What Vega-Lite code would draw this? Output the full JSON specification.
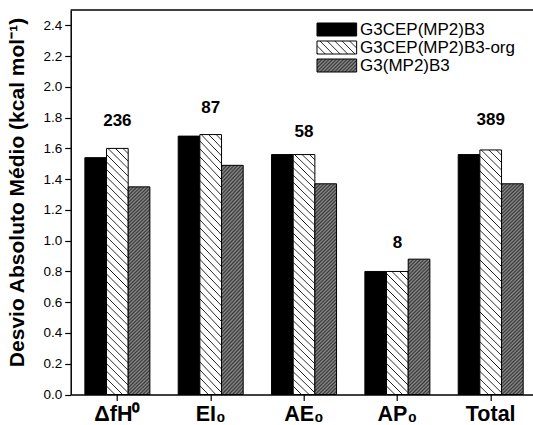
{
  "$schema": "https://vega.github.io/schema/vega-lite/v6.json",
  "autosize": {"type": "none"},
  "padding": {"left": 70.7, "top": 10, "right": 0, "bottom": 30.5},
  "width": 462.3,
  "height": 384.5,
  "background": "white",
  "config": {
    "view": {"stroke": null}, "font": "Liberation Sans",
    "axisY": {"labelOverlap": false, "labelFontSize": 13.5, "labelColor": "#000", "labelPadding": 3, "tickSize": 6, "tickColor": "#000", "tickWidth": 1.2, "domainColor": "#000", "domainWidth": 1.5, "grid": false, "format": ".1f", "titleFontSize": 21, "titleFontWeight": "bold", "titleColor": "#000"},
    "axisX": {"labelAngle": 0, "labelFontSize": 21.5, "labelFontWeight": "bold", "labelColor": "#000", "labelPadding": 3, "tickSize": 6, "tickColor": "#000", "tickWidth": 1.2, "domainColor": "#000", "domainWidth": 1.5}
  },
  "layer": [
    {
      "data": {"values": [
        {"cat": "ΔfH⁰", "series": "G3CEP(MP2)B3", "value": 1.54},
        {"cat": "ΔfH⁰", "series": "G3CEP(MP2)B3-org", "value": 1.60},
        {"cat": "ΔfH⁰", "series": "G3(MP2)B3", "value": 1.35},
        {"cat": "EI₀", "series": "G3CEP(MP2)B3", "value": 1.68},
        {"cat": "EI₀", "series": "G3CEP(MP2)B3-org", "value": 1.69},
        {"cat": "EI₀", "series": "G3(MP2)B3", "value": 1.49},
        {"cat": "AE₀", "series": "G3CEP(MP2)B3", "value": 1.56},
        {"cat": "AE₀", "series": "G3CEP(MP2)B3-org", "value": 1.56},
        {"cat": "AE₀", "series": "G3(MP2)B3", "value": 1.37},
        {"cat": "AP₀", "series": "G3CEP(MP2)B3", "value": 0.80},
        {"cat": "AP₀", "series": "G3CEP(MP2)B3-org", "value": 0.80},
        {"cat": "AP₀", "series": "G3(MP2)B3", "value": 0.88},
        {"cat": "Total", "series": "G3CEP(MP2)B3", "value": 1.56},
        {"cat": "Total", "series": "G3CEP(MP2)B3-org", "value": 1.59},
        {"cat": "Total", "series": "G3(MP2)B3", "value": 1.37}
      ]},
      "mark": {"type": "bar", "stroke": "#000", "strokeWidth": 1},
      "encoding": {
        "x": {
          "field": "cat", "type": "nominal",
          "scale": {"domain": ["ΔfH⁰", "EI₀", "AE₀", "AP₀", "Total"], "range": [0, 466.67], "paddingInner": 0.3036, "paddingOuter": 0.1518},
          "axis": {"title": null}
        },
        "xOffset": {"field": "series", "type": "nominal", "scale": {"domain": ["G3CEP(MP2)B3", "G3CEP(MP2)B3-org", "G3(MP2)B3"], "paddingInner": 0, "paddingOuter": 0}},
        "y": {
          "field": "value", "type": "quantitative",
          "scale": {"domain": [0, 2.5], "nice": false, "zero": true},
          "axis": {
            "title": "Desvio Absoluto Médio (kcal mol⁻¹)",
            "titleX": -52.7, "titleY": 182, "titleAlign": "center", "titleBaseline": "middle",
            "values": [0, 0.2, 0.4, 0.6, 0.8, 1.0, 1.2, 1.4, 1.6, 1.8, 2.0, 2.2, 2.4], "labelOverlap": false
          }
        },
        "fill": {
          "condition": [
            {"test": "datum.series === 'G3CEP(MP2)B3-org' && datum.cat === 'AP₀'", "value": {"gradient": "linear", "x1": 0, "y1": 1, "x2": 0.41673, "y2": -1.36566, "stops": [
              {"offset":0,"color":"#fff"},{"offset":0.003,"color":"#111"},{"offset":0.006,"color":"#fff"},
              {"offset":0.025,"color":"#fff"},{"offset":0.028,"color":"#111"},{"offset":0.031,"color":"#fff"},
              {"offset":0.05,"color":"#fff"},{"offset":0.053,"color":"#111"},{"offset":0.056,"color":"#fff"},
              {"offset":0.075,"color":"#fff"},{"offset":0.078,"color":"#111"},{"offset":0.081,"color":"#fff"},
              {"offset":0.1,"color":"#fff"},{"offset":0.103,"color":"#111"},{"offset":0.106,"color":"#fff"},
              {"offset":0.125,"color":"#fff"},{"offset":0.128,"color":"#111"},{"offset":0.131,"color":"#fff"},
              {"offset":0.15,"color":"#fff"},{"offset":0.153,"color":"#111"},{"offset":0.156,"color":"#fff"},
              {"offset":0.175,"color":"#fff"},{"offset":0.178,"color":"#111"},{"offset":0.181,"color":"#fff"},
              {"offset":0.2,"color":"#fff"},{"offset":0.203,"color":"#111"},{"offset":0.206,"color":"#fff"},
              {"offset":0.225,"color":"#fff"},{"offset":0.228,"color":"#111"},{"offset":0.231,"color":"#fff"},
              {"offset":0.25,"color":"#fff"},{"offset":0.253,"color":"#111"},{"offset":0.256,"color":"#fff"},
              {"offset":0.275,"color":"#fff"},{"offset":0.278,"color":"#111"},{"offset":0.281,"color":"#fff"},
              {"offset":0.3,"color":"#fff"},{"offset":0.303,"color":"#111"},{"offset":0.306,"color":"#fff"},
              {"offset":0.325,"color":"#fff"},{"offset":0.328,"color":"#111"},{"offset":0.331,"color":"#fff"},
              {"offset":0.35,"color":"#fff"},{"offset":0.353,"color":"#111"},{"offset":0.356,"color":"#fff"},
              {"offset":0.375,"color":"#fff"},{"offset":0.378,"color":"#111"},{"offset":0.381,"color":"#fff"},
              {"offset":0.4,"color":"#fff"},{"offset":0.403,"color":"#111"},{"offset":0.406,"color":"#fff"},
              {"offset":0.425,"color":"#fff"},{"offset":0.428,"color":"#111"},{"offset":0.431,"color":"#fff"},
              {"offset":0.45,"color":"#fff"},{"offset":0.453,"color":"#111"},{"offset":0.456,"color":"#fff"},
              {"offset":0.475,"color":"#fff"},{"offset":0.478,"color":"#111"},{"offset":0.481,"color":"#fff"},
              {"offset":1,"color":"#fff"}
            ]}},
            {"test": "datum.series === 'G3CEP(MP2)B3-org'", "value": {"gradient": "linear", "x1": 0, "y1": 1, "x2": 0.10573, "y2": -0.20529, "stops": [
              {"offset":0,"color":"#fff"},{"offset":0.003,"color":"#111"},{"offset":0.006,"color":"#fff"},
              {"offset":0.025,"color":"#fff"},{"offset":0.028,"color":"#111"},{"offset":0.031,"color":"#fff"},
              {"offset":0.05,"color":"#fff"},{"offset":0.053,"color":"#111"},{"offset":0.056,"color":"#fff"},
              {"offset":0.075,"color":"#fff"},{"offset":0.078,"color":"#111"},{"offset":0.081,"color":"#fff"},
              {"offset":0.1,"color":"#fff"},{"offset":0.103,"color":"#111"},{"offset":0.106,"color":"#fff"},
              {"offset":0.125,"color":"#fff"},{"offset":0.128,"color":"#111"},{"offset":0.131,"color":"#fff"},
              {"offset":0.15,"color":"#fff"},{"offset":0.153,"color":"#111"},{"offset":0.156,"color":"#fff"},
              {"offset":0.175,"color":"#fff"},{"offset":0.178,"color":"#111"},{"offset":0.181,"color":"#fff"},
              {"offset":0.2,"color":"#fff"},{"offset":0.203,"color":"#111"},{"offset":0.206,"color":"#fff"},
              {"offset":0.225,"color":"#fff"},{"offset":0.228,"color":"#111"},{"offset":0.231,"color":"#fff"},
              {"offset":0.25,"color":"#fff"},{"offset":0.253,"color":"#111"},{"offset":0.256,"color":"#fff"},
              {"offset":0.275,"color":"#fff"},{"offset":0.278,"color":"#111"},{"offset":0.281,"color":"#fff"},
              {"offset":0.3,"color":"#fff"},{"offset":0.303,"color":"#111"},{"offset":0.306,"color":"#fff"},
              {"offset":0.325,"color":"#fff"},{"offset":0.328,"color":"#111"},{"offset":0.331,"color":"#fff"},
              {"offset":0.35,"color":"#fff"},{"offset":0.353,"color":"#111"},{"offset":0.356,"color":"#fff"},
              {"offset":0.375,"color":"#fff"},{"offset":0.378,"color":"#111"},{"offset":0.381,"color":"#fff"},
              {"offset":0.4,"color":"#fff"},{"offset":0.403,"color":"#111"},{"offset":0.406,"color":"#fff"},
              {"offset":0.425,"color":"#fff"},{"offset":0.428,"color":"#111"},{"offset":0.431,"color":"#fff"},
              {"offset":0.45,"color":"#fff"},{"offset":0.453,"color":"#111"},{"offset":0.456,"color":"#fff"},
              {"offset":0.475,"color":"#fff"},{"offset":0.478,"color":"#111"},{"offset":0.481,"color":"#fff"},
              {"offset":0.5,"color":"#fff"},{"offset":0.503,"color":"#111"},{"offset":0.506,"color":"#fff"},
              {"offset":0.525,"color":"#fff"},{"offset":0.528,"color":"#111"},{"offset":0.531,"color":"#fff"},
              {"offset":0.55,"color":"#fff"},{"offset":0.553,"color":"#111"},{"offset":0.556,"color":"#fff"},
              {"offset":0.575,"color":"#fff"},{"offset":0.578,"color":"#111"},{"offset":0.581,"color":"#fff"},
              {"offset":0.6,"color":"#fff"},{"offset":0.603,"color":"#111"},{"offset":0.606,"color":"#fff"},
              {"offset":0.625,"color":"#fff"},{"offset":0.628,"color":"#111"},{"offset":0.631,"color":"#fff"},
              {"offset":0.65,"color":"#fff"},{"offset":0.653,"color":"#111"},{"offset":0.656,"color":"#fff"},
              {"offset":0.675,"color":"#fff"},{"offset":0.678,"color":"#111"},{"offset":0.681,"color":"#fff"},
              {"offset":0.7,"color":"#fff"},{"offset":0.703,"color":"#111"},{"offset":0.706,"color":"#fff"},
              {"offset":0.725,"color":"#fff"},{"offset":0.728,"color":"#111"},{"offset":0.731,"color":"#fff"},
              {"offset":0.75,"color":"#fff"},{"offset":0.753,"color":"#111"},{"offset":0.756,"color":"#fff"},
              {"offset":0.775,"color":"#fff"},{"offset":0.778,"color":"#111"},{"offset":0.781,"color":"#fff"},
              {"offset":0.8,"color":"#fff"},{"offset":0.803,"color":"#111"},{"offset":0.806,"color":"#fff"},
              {"offset":0.825,"color":"#fff"},{"offset":0.828,"color":"#111"},{"offset":0.831,"color":"#fff"},
              {"offset":0.85,"color":"#fff"},{"offset":0.853,"color":"#111"},{"offset":0.856,"color":"#fff"},
              {"offset":0.875,"color":"#fff"},{"offset":0.878,"color":"#111"},{"offset":0.881,"color":"#fff"},
              {"offset":1,"color":"#fff"}
            ]}},
            {"test": "datum.series === 'G3(MP2)B3' && datum.cat === 'AP₀'", "value": {"gradient": "linear", "x1": 0, "y1": 0, "x2": 0.3462, "y2": 2.16188, "stops": [
              {"offset":0,"color":"#8c8c8c"},{"offset":0.006,"color":"#383838"},{"offset":0.012,"color":"#8c8c8c"},{"offset":0.018,"color":"#383838"},
              {"offset":0.024,"color":"#8c8c8c"},{"offset":0.03,"color":"#383838"},{"offset":0.036,"color":"#8c8c8c"},{"offset":0.042,"color":"#383838"},
              {"offset":0.048,"color":"#8c8c8c"},{"offset":0.054,"color":"#383838"},{"offset":0.06,"color":"#8c8c8c"},{"offset":0.066,"color":"#383838"},
              {"offset":0.072,"color":"#8c8c8c"},{"offset":0.078,"color":"#383838"},{"offset":0.084,"color":"#8c8c8c"},{"offset":0.09,"color":"#383838"},
              {"offset":0.096,"color":"#8c8c8c"},{"offset":0.102,"color":"#383838"},{"offset":0.108,"color":"#8c8c8c"},{"offset":0.114,"color":"#383838"},
              {"offset":0.12,"color":"#8c8c8c"},{"offset":0.126,"color":"#383838"},{"offset":0.132,"color":"#8c8c8c"},{"offset":0.138,"color":"#383838"},
              {"offset":0.144,"color":"#8c8c8c"},{"offset":0.15,"color":"#383838"},{"offset":0.156,"color":"#8c8c8c"},{"offset":0.162,"color":"#383838"},
              {"offset":0.168,"color":"#8c8c8c"},{"offset":0.174,"color":"#383838"},{"offset":0.18,"color":"#8c8c8c"},{"offset":0.186,"color":"#383838"},
              {"offset":0.192,"color":"#8c8c8c"},{"offset":0.198,"color":"#383838"},{"offset":0.204,"color":"#8c8c8c"},{"offset":0.21,"color":"#383838"},
              {"offset":0.216,"color":"#8c8c8c"},{"offset":0.222,"color":"#383838"},{"offset":0.228,"color":"#8c8c8c"},{"offset":0.234,"color":"#383838"},
              {"offset":0.24,"color":"#8c8c8c"},{"offset":0.246,"color":"#383838"},{"offset":0.252,"color":"#8c8c8c"},{"offset":0.258,"color":"#383838"},
              {"offset":0.264,"color":"#8c8c8c"},{"offset":0.27,"color":"#383838"},{"offset":0.276,"color":"#8c8c8c"},{"offset":0.282,"color":"#383838"},
              {"offset":0.288,"color":"#8c8c8c"},{"offset":0.294,"color":"#383838"},{"offset":0.3,"color":"#8c8c8c"},{"offset":0.306,"color":"#383838"},
              {"offset":0.312,"color":"#8c8c8c"},{"offset":0.318,"color":"#383838"},{"offset":0.324,"color":"#8c8c8c"},{"offset":0.33,"color":"#383838"},
              {"offset":0.336,"color":"#8c8c8c"},{"offset":0.342,"color":"#383838"},{"offset":0.348,"color":"#8c8c8c"},{"offset":0.354,"color":"#383838"},
              {"offset":0.36,"color":"#8c8c8c"},{"offset":0.366,"color":"#383838"},{"offset":0.372,"color":"#8c8c8c"},{"offset":0.378,"color":"#383838"},
              {"offset":0.384,"color":"#8c8c8c"},{"offset":0.39,"color":"#383838"},{"offset":0.396,"color":"#8c8c8c"},{"offset":0.402,"color":"#383838"},
              {"offset":0.408,"color":"#8c8c8c"},{"offset":0.414,"color":"#383838"},{"offset":0.42,"color":"#8c8c8c"},{"offset":0.426,"color":"#383838"},
              {"offset":0.432,"color":"#8c8c8c"},{"offset":0.438,"color":"#383838"},{"offset":0.444,"color":"#8c8c8c"},{"offset":0.45,"color":"#383838"},
              {"offset":0.456,"color":"#8c8c8c"},{"offset":0.462,"color":"#383838"},{"offset":0.468,"color":"#8c8c8c"},{"offset":0.474,"color":"#383838"},
              {"offset":0.48,"color":"#8c8c8c"},{"offset":0.486,"color":"#383838"},{"offset":0.492,"color":"#8c8c8c"},{"offset":0.498,"color":"#383838"},
              {"offset":0.504,"color":"#8c8c8c"},{"offset":0.51,"color":"#383838"},{"offset":0.516,"color":"#8c8c8c"},{"offset":0.522,"color":"#383838"},
              {"offset":0.528,"color":"#8c8c8c"},{"offset":1,"color":"#8c8c8c"}
            ]}},
            {"test": "datum.series === 'G3(MP2)B3'", "value": {"gradient": "linear", "x1": 0, "y1": 0, "x2": 0.1405, "y2": 1.38764, "stops": [
              {"offset":0,"color":"#8c8c8c"},{"offset":0.006,"color":"#383838"},{"offset":0.012,"color":"#8c8c8c"},{"offset":0.018,"color":"#383838"},
              {"offset":0.024,"color":"#8c8c8c"},{"offset":0.03,"color":"#383838"},{"offset":0.036,"color":"#8c8c8c"},{"offset":0.042,"color":"#383838"},
              {"offset":0.048,"color":"#8c8c8c"},{"offset":0.054,"color":"#383838"},{"offset":0.06,"color":"#8c8c8c"},{"offset":0.066,"color":"#383838"},
              {"offset":0.072,"color":"#8c8c8c"},{"offset":0.078,"color":"#383838"},{"offset":0.084,"color":"#8c8c8c"},{"offset":0.09,"color":"#383838"},
              {"offset":0.096,"color":"#8c8c8c"},{"offset":0.102,"color":"#383838"},{"offset":0.108,"color":"#8c8c8c"},{"offset":0.114,"color":"#383838"},
              {"offset":0.12,"color":"#8c8c8c"},{"offset":0.126,"color":"#383838"},{"offset":0.132,"color":"#8c8c8c"},{"offset":0.138,"color":"#383838"},
              {"offset":0.144,"color":"#8c8c8c"},{"offset":0.15,"color":"#383838"},{"offset":0.156,"color":"#8c8c8c"},{"offset":0.162,"color":"#383838"},
              {"offset":0.168,"color":"#8c8c8c"},{"offset":0.174,"color":"#383838"},{"offset":0.18,"color":"#8c8c8c"},{"offset":0.186,"color":"#383838"},
              {"offset":0.192,"color":"#8c8c8c"},{"offset":0.198,"color":"#383838"},{"offset":0.204,"color":"#8c8c8c"},{"offset":0.21,"color":"#383838"},
              {"offset":0.216,"color":"#8c8c8c"},{"offset":0.222,"color":"#383838"},{"offset":0.228,"color":"#8c8c8c"},{"offset":0.234,"color":"#383838"},
              {"offset":0.24,"color":"#8c8c8c"},{"offset":0.246,"color":"#383838"},{"offset":0.252,"color":"#8c8c8c"},{"offset":0.258,"color":"#383838"},
              {"offset":0.264,"color":"#8c8c8c"},{"offset":0.27,"color":"#383838"},{"offset":0.276,"color":"#8c8c8c"},{"offset":0.282,"color":"#383838"},
              {"offset":0.288,"color":"#8c8c8c"},{"offset":0.294,"color":"#383838"},{"offset":0.3,"color":"#8c8c8c"},{"offset":0.306,"color":"#383838"},
              {"offset":0.312,"color":"#8c8c8c"},{"offset":0.318,"color":"#383838"},{"offset":0.324,"color":"#8c8c8c"},{"offset":0.33,"color":"#383838"},
              {"offset":0.336,"color":"#8c8c8c"},{"offset":0.342,"color":"#383838"},{"offset":0.348,"color":"#8c8c8c"},{"offset":0.354,"color":"#383838"},
              {"offset":0.36,"color":"#8c8c8c"},{"offset":0.366,"color":"#383838"},{"offset":0.372,"color":"#8c8c8c"},{"offset":0.378,"color":"#383838"},
              {"offset":0.384,"color":"#8c8c8c"},{"offset":0.39,"color":"#383838"},{"offset":0.396,"color":"#8c8c8c"},{"offset":0.402,"color":"#383838"},
              {"offset":0.408,"color":"#8c8c8c"},{"offset":0.414,"color":"#383838"},{"offset":0.42,"color":"#8c8c8c"},{"offset":0.426,"color":"#383838"},
              {"offset":0.432,"color":"#8c8c8c"},{"offset":0.438,"color":"#383838"},{"offset":0.444,"color":"#8c8c8c"},{"offset":0.45,"color":"#383838"},
              {"offset":0.456,"color":"#8c8c8c"},{"offset":0.462,"color":"#383838"},{"offset":0.468,"color":"#8c8c8c"},{"offset":0.474,"color":"#383838"},
              {"offset":0.48,"color":"#8c8c8c"},{"offset":0.486,"color":"#383838"},{"offset":0.492,"color":"#8c8c8c"},{"offset":0.498,"color":"#383838"},
              {"offset":0.504,"color":"#8c8c8c"},{"offset":0.51,"color":"#383838"},{"offset":0.516,"color":"#8c8c8c"},{"offset":0.522,"color":"#383838"},
              {"offset":0.528,"color":"#8c8c8c"},{"offset":0.534,"color":"#383838"},{"offset":0.54,"color":"#8c8c8c"},{"offset":0.546,"color":"#383838"},
              {"offset":0.552,"color":"#8c8c8c"},{"offset":0.558,"color":"#383838"},{"offset":0.564,"color":"#8c8c8c"},{"offset":0.57,"color":"#383838"},
              {"offset":0.576,"color":"#8c8c8c"},{"offset":0.582,"color":"#383838"},{"offset":0.588,"color":"#8c8c8c"},{"offset":0.594,"color":"#383838"},
              {"offset":0.6,"color":"#8c8c8c"},{"offset":0.606,"color":"#383838"},{"offset":0.612,"color":"#8c8c8c"},{"offset":0.618,"color":"#383838"},
              {"offset":0.624,"color":"#8c8c8c"},{"offset":0.63,"color":"#383838"},{"offset":0.636,"color":"#8c8c8c"},{"offset":0.642,"color":"#383838"},
              {"offset":0.648,"color":"#8c8c8c"},{"offset":0.654,"color":"#383838"},{"offset":0.66,"color":"#8c8c8c"},{"offset":0.666,"color":"#383838"},
              {"offset":0.672,"color":"#8c8c8c"},{"offset":0.678,"color":"#383838"},{"offset":0.684,"color":"#8c8c8c"},{"offset":0.69,"color":"#383838"},
              {"offset":0.696,"color":"#8c8c8c"},{"offset":0.702,"color":"#383838"},{"offset":0.708,"color":"#8c8c8c"},{"offset":0.714,"color":"#383838"},
              {"offset":0.72,"color":"#8c8c8c"},{"offset":0.726,"color":"#383838"},{"offset":0.732,"color":"#8c8c8c"},{"offset":0.738,"color":"#383838"},
              {"offset":0.744,"color":"#8c8c8c"},{"offset":0.75,"color":"#383838"},{"offset":0.756,"color":"#8c8c8c"},{"offset":0.762,"color":"#383838"},
              {"offset":0.768,"color":"#8c8c8c"},{"offset":0.774,"color":"#383838"},{"offset":0.78,"color":"#8c8c8c"},{"offset":0.786,"color":"#383838"},
              {"offset":0.792,"color":"#8c8c8c"},{"offset":1,"color":"#8c8c8c"}
            ]}}
          ],
          "field": "series", "type": "nominal",
          "scale": {"domain": ["G3CEP(MP2)B3", "G3CEP(MP2)B3-org", "G3(MP2)B3"], "range": [
            "#000000",
            {"expr": "{gradient:'linear',x1:0,y1:1,x2:6.7836,y2:-1.2047,stops:[{offset:0,color:'#fff'},{offset:0.003,color:'#111'},{offset:0.006,color:'#fff'},{offset:0.025,color:'#fff'},{offset:0.028,color:'#111'},{offset:0.031,color:'#fff'},{offset:0.05,color:'#fff'},{offset:0.053,color:'#111'},{offset:0.056,color:'#fff'},{offset:0.075,color:'#fff'},{offset:0.078,color:'#111'},{offset:0.081,color:'#fff'},{offset:0.1,color:'#fff'},{offset:0.103,color:'#111'},{offset:0.106,color:'#fff'},{offset:0.125,color:'#fff'},{offset:0.128,color:'#111'},{offset:0.131,color:'#fff'},{offset:0.15,color:'#fff'},{offset:0.153,color:'#111'},{offset:0.156,color:'#fff'},{offset:0.175,color:'#fff'},{offset:0.178,color:'#111'},{offset:0.181,color:'#fff'},{offset:1,color:'#fff'}]}"},
            {"expr": "{gradient:'linear',x1:0,y1:0,x2:6.7836,y2:2.2047,stops:[{offset:0,color:'#8c8c8c'},{offset:0.006,color:'#383838'},{offset:0.012,color:'#8c8c8c'},{offset:0.018,color:'#383838'},{offset:0.024,color:'#8c8c8c'},{offset:0.03,color:'#383838'},{offset:0.036,color:'#8c8c8c'},{offset:0.042,color:'#383838'},{offset:0.048,color:'#8c8c8c'},{offset:0.054,color:'#383838'},{offset:0.06,color:'#8c8c8c'},{offset:0.066,color:'#383838'},{offset:0.072,color:'#8c8c8c'},{offset:0.078,color:'#383838'},{offset:0.084,color:'#8c8c8c'},{offset:0.09,color:'#383838'},{offset:0.096,color:'#8c8c8c'},{offset:0.102,color:'#383838'},{offset:0.108,color:'#8c8c8c'},{offset:0.114,color:'#383838'},{offset:0.12,color:'#8c8c8c'},{offset:0.126,color:'#383838'},{offset:0.132,color:'#8c8c8c'},{offset:0.138,color:'#383838'},{offset:0.144,color:'#8c8c8c'},{offset:0.15,color:'#383838'},{offset:0.156,color:'#8c8c8c'},{offset:0.162,color:'#383838'},{offset:0.168,color:'#8c8c8c'},{offset:0.174,color:'#383838'},{offset:0.18,color:'#8c8c8c'},{offset:1,color:'#8c8c8c'}]}"}
          ]},
          "legend": {
            "title": null, "orient": "none", "legendX": 243.65, "legendY": 12,
            "symbolType": "M-0.9,-1H5.2V1H-0.9Z", "symbolSize": 169,
            "symbolStrokeColor": "#000", "symbolStrokeWidth": 1, "symbolOpacity": 1,
            "labelFontSize": 17, "labelColor": "#000", "labelOffset": 28.7, "rowPadding": 0, "clipHeight": 15
          }
        }
      }
    },
    {
      "data": {"values": [
        {"cat": "ΔfH⁰", "n": "236", "pos": 1.78},
        {"cat": "EI₀", "n": "87", "pos": 1.865},
        {"cat": "AE₀", "n": "58", "pos": 1.71},
        {"cat": "AP₀", "n": "8", "pos": 0.982},
        {"cat": "Total", "n": "389", "pos": 1.787}
      ]},
      "mark": {"type": "text", "fontSize": 17, "fontWeight": "bold", "color": "#000", "baseline": "middle", "align": "center"},
      "encoding": {
        "x": {"field": "cat", "type": "nominal", "axis": {"title": null}},
        "y": {"field": "pos", "type": "quantitative", "axis": {
          "title": "Desvio Absoluto Médio (kcal mol⁻¹)",
          "titleX": -52.7, "titleY": 182, "titleAlign": "center", "titleBaseline": "middle",
          "values": [0, 0.2, 0.4, 0.6, 0.8, 1.0, 1.2, 1.4, 1.6, 1.8, 2.0, 2.2, 2.4], "labelOverlap": false
        }},
        "text": {"field": "n"}
      }
    },
    {
      "data": {"values": [{}]},
      "mark": {"type": "rule", "color": "#000", "strokeWidth": 1.5},
      "encoding": {"y": {"datum": 2.5, "type": "quantitative", "axis": {
        "title": "Desvio Absoluto Médio (kcal mol⁻¹)",
        "titleX": -52.7, "titleY": 182, "titleAlign": "center", "titleBaseline": "middle",
        "values": [0, 0.2, 0.4, 0.6, 0.8, 1.0, 1.2, 1.4, 1.6, 1.8, 2.0, 2.2, 2.4], "labelOverlap": false
      }}}
    }
  ]
}
